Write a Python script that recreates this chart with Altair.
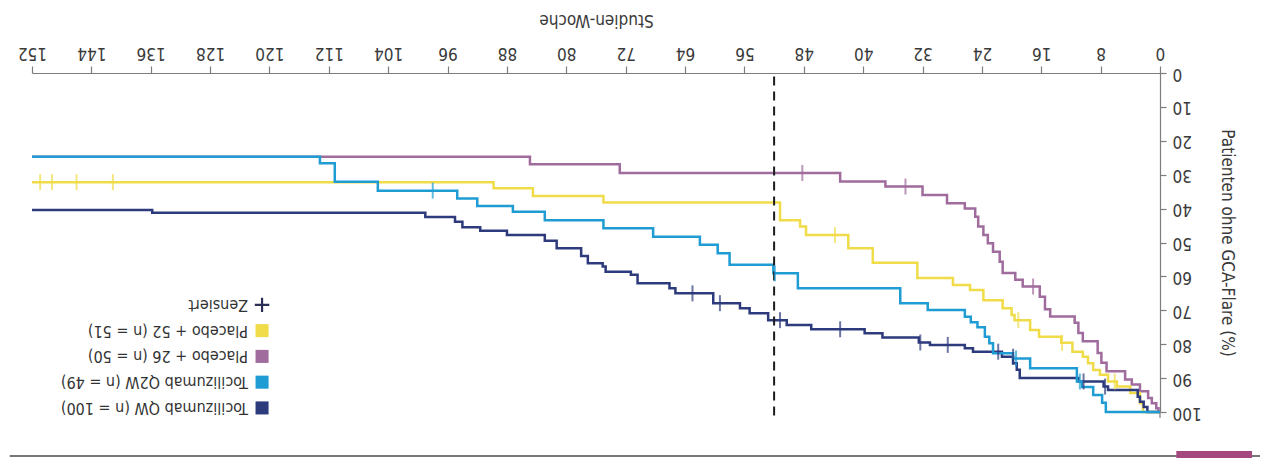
import altair as alt
import pandas as pd

FONT = "Liberation Sans Narrow, DejaVu Sans Condensed, Arial Narrow, Liberation Sans, sans-serif"

# ---- series identity -------------------------------------------------------
KEYS = ["P26", "P52", "QW", "Q2W"]          # drawing order (Q2W on top)
LABELS = {
    "QW": "Tocilizumab QW (n = 100)",
    "Q2W": "Tocilizumab Q2W (n = 49)",
    "P26": "Placebo + 26 (n = 50)",
    "P52": "Placebo + 52 (n = 51)",
}
COLOR_KEYS = ["QW", "Q2W", "P26", "P52"]
COLOR_VALUES = ["#2d3a7c", "#1f9cd4", "#a06b9d", "#efdc48"]

# ---- Kaplan-Meier step data (week at which level starts, % without flare) ----
qw_weeks = [0, 1.7, 2.2, 2.7, 3.0, 7.0, 7.6, 11.0, 18.9, 19.3, 19.8, 21.3, 25.2, 26.3,
            31.0, 32.5, 37.4, 39.8, 47.0, 50.3, 52.8, 55.3, 56.6, 60.2, 65.3, 66.1,
            70.4, 71.3, 74.7, 75.1, 77.1, 78.0, 81.3, 82.9, 88.0, 91.6, 94.0, 95.0,
            99.0, 135.8, 152]
qw_pct = [100, 98.5, 97, 95.5, 93.5, 92.5, 91, 90, 87.5, 85.6, 83.7, 82.2, 81.2, 80.2,
          79.5, 78, 76.8, 75.6, 74.3, 72.9, 70.9, 69.4, 67.9, 65, 63.5, 62,
          59.5, 58.6, 57.1, 56.1, 54, 51.7, 49.5, 47.8, 46.5, 45.5, 43.9, 42.5,
          41.2, 40.4, 40.4]

q2w_weeks = [0, 7.3, 7.8, 9.0, 10.5, 11.2, 17.5, 19.8, 22.5, 23.0, 23.6, 24.6, 25.5,
             26.3, 31.3, 35.0, 48.8, 52.1, 58.0, 59.6, 62.0, 68.3, 75.0, 82.9, 87.2,
             92.0, 94.7, 105.4, 111.2, 113.2, 152]
q2w_pct = [100, 97.3, 95, 92.6, 91, 87.1, 84.2, 82.7, 79.7, 77.8, 75, 73.5, 71.9,
           69.9, 67.9, 63.5, 59.1, 56.6, 53.2, 50.7, 48.3, 45.8, 43.4, 40.9, 39.2,
           37, 34.7, 32.1, 26.6, 24.7, 24.7]

p26_weeks = [0, 0.2, 0.5, 1.1, 1.6, 2.7, 3.8, 4.7, 7.2, 7.9, 8.4, 10.4, 11.0, 11.5,
             14.8, 15.5, 16.2, 18.5, 19.5, 21.2, 21.6, 22.5, 23.2, 23.8, 24.5, 24.9,
             26.3, 28.7, 32.0, 37.0, 43.1, 72.8, 84.9, 152]
p26_pct = [100, 98.9, 97.4, 95.9, 93.9, 91.9, 90.4, 88, 85.5, 82.6, 79.1, 76.7, 73.7, 71.8,
           69.7, 66, 63, 61, 59, 55.7, 52.7, 50.2, 47.8, 45.3, 42.4, 40,
           38.4, 36, 33.5, 32, 29.5, 26.9, 24.7, 24.7]

p52_weeks = [0, 2.3, 2.7, 4.0, 5.8, 7.0, 8.1, 9.0, 9.7, 10.4, 11.8, 13.3, 16.3, 17.5,
             19.6, 20.0, 21.2, 23.8, 25.6, 27.9, 32.7, 38.7, 42.0, 47.7, 48.5, 51.2,
             75.0, 84.5, 89.8, 152]
p52_pct = [100, 97.4, 94.4, 92.5, 91, 89, 87.6, 85.6, 83.7, 82.2, 79.6, 77.8, 75.8, 72.9,
           71.4, 69.4, 67, 64, 62.5, 60.5, 56, 51.7, 47.8, 45.3, 43.4, 38.2,
           36.3, 34, 32.2, 32.2]

# ---- censored observations --------------------------------------------------
qw_cens_w = [7.4, 10.3, 19.8, 21.8, 28.6, 32.3, 43.1, 51.2, 59.3, 63.0]
qw_cens_p = [92.5, 91, 83.7, 82.2, 80.2, 79.5, 75.6, 72.9, 67.9, 65]
q2w_cens_w = [10.8, 19.4, 51.9, 98.0]
q2w_cens_p = [91, 84.2, 59.1, 34.7]
p26_cens_w = [17.1, 34.3, 48.2]
p26_cens_p = [63, 33.5, 29.5]
p52_cens_w = [6.1, 13.2, 19.1, 43.8, 141.1, 146.0, 149.3, 150.9]
p52_cens_p = [91, 79.6, 72.9, 47.8, 32.2, 32.2, 32.2, 32.2]

x_ticks = list(range(0, 153, 8))
y_ticks = list(range(0, 101, 10))
landmark_week = [52]

legend_order = ["QW", "Q2W", "P26", "P52"]
censor_label = "Zensiert"

# ---- build tables -----------------------------------------------------------
curves = {"QW": (qw_weeks, qw_pct), "Q2W": (q2w_weeks, q2w_pct),
          "P26": (p26_weeks, p26_pct), "P52": (p52_weeks, p52_pct)}
cens = {"QW": (qw_cens_w, qw_cens_p), "Q2W": (q2w_cens_w, q2w_cens_p),
        "P26": (p26_cens_w, p26_cens_p), "P52": (p52_cens_w, p52_cens_p)}

line_rows, cens_rows = [], []
for k in KEYS:
    w, p = curves[k]
    for a, b in zip(w, p):
        line_rows.append({"key": k, "order": KEYS.index(k), "week": a, "pct": b})
    cw, cp = cens[k]
    for a, b in zip(cw, cp):
        cens_rows.append({"key": k, "order": KEYS.index(k), "week": a, "pct": b})
lines_df = pd.DataFrame(line_rows)
cens_df = pd.DataFrame(cens_rows)

W, H = 1128, 339
PX_W = 152 / W          # weeks per pixel
PX_P = 100 / H          # percent per pixel

leg_rows = []
for i, k in enumerate(legend_order):
    leg_rows.append({"key": k, "label": LABELS[k],
                     "week": 121.0, "tx": 121.0 + 14 * PX_W,
                     "pct": 98.8 - i * 7.6})
leg_df = pd.DataFrame(leg_rows)
cens_leg_df = pd.DataFrame([{"label": censor_label, "week": 121.0,
                             "tx": 121.0 + 14 * PX_W, "pct": 98.8 - 4 * 7.6}])
dash_df = pd.DataFrame({"week": landmark_week, "pct": [1.0], "pct2": [102.0]})

# page furniture below the plot (rule across the page and a coloured tab)
page_rule_df = pd.DataFrame({"week": [155.0], "week2": [-13.5], "pct": [100 + 44 * PX_P]})
page_tab_df = pd.DataFrame({"week": [-2.2], "week2": [-12.4],
                            "pct": [100 + 39 * PX_P], "pct2": [100 + 47 * PX_P]})
axis_ext_df = pd.DataFrame({"week": [0.0], "pct": [100.0], "pct2": [100 + 6 * PX_P]})

color_scale = alt.Scale(domain=COLOR_KEYS, range=COLOR_VALUES)
x_scale = alt.Scale(domain=[0, 152], reverse=True, nice=False, zero=False)
y_scale = alt.Scale(domain=[0, 100], reverse=True, nice=False, zero=False)

x_axis = alt.Axis(orient="top", values=x_ticks, grid=False,
                  labelAngle=180, labelAlign="center", labelBaseline="top",
                  labelPadding=6, labelFlush=False, labelOverlap=False,
                  tickSize=7, labelFontSize=17, labelFont=FONT,
                  title="Studien-Woche", titleAngle=180, titleAlign="center",
                  titleBaseline="middle", titleX=W / 2, titleY=-54,
                  titleFontSize=17, titleFont=FONT, titleFontWeight="normal")
y_axis = alt.Axis(orient="right", values=y_ticks, grid=False,
                  labelAngle=180, labelAlign="right", labelBaseline="middle",
                  labelPadding=6, labelFlush=False, labelOverlap=False,
                  tickSize=6, labelFontSize=17, labelFont=FONT,
                  title="Patienten ohne GCA-Flare (%)", titleAngle=90,
                  titleAlign="center", titleBaseline="middle",
                  titleX=66, titleY=H / 2, titleFontSize=17, titleFont=FONT,
                  titleFontWeight="normal")


def xq(field="week"):
    return alt.X(f"{field}:Q", scale=x_scale, axis=x_axis)


def yq(field="pct"):
    return alt.Y(f"{field}:Q", scale=y_scale, axis=y_axis)


lines = alt.Chart(lines_df).mark_line(interpolate="step-after", strokeWidth=2.5).encode(
    x=xq(), y=yq(),
    color=alt.Color("key:N", scale=color_scale, legend=None),
    detail="key:N",
    order=alt.Order("order:Q"),
)

ticks = alt.Chart(cens_df).mark_tick(orient="vertical", size=16, thickness=2).encode(
    x=xq(), y=yq(),
    color=alt.Color("key:N", scale=color_scale, legend=None),
)

dash = alt.Chart(dash_df).mark_rule(strokeDash=[9, 6], strokeWidth=2, color="#1c1c1c").encode(
    x=xq(), y=yq(), y2="pct2:Q",
)

axis_ext = alt.Chart(axis_ext_df).mark_rule(strokeWidth=1.2, color="#7d7d7d").encode(
    x=xq(), y=yq(), y2="pct2:Q",
)

page_rule = alt.Chart(page_rule_df).mark_rule(strokeWidth=1.5, color="#4a4a4a").encode(
    x=xq(), x2="week2:Q", y=yq(),
)
page_tab = alt.Chart(page_tab_df).mark_rect(color="#a4487f").encode(
    x=xq(), x2="week2:Q", y=yq(), y2="pct2:Q",
)

swatches = alt.Chart(leg_df).mark_square(size=170, opacity=1).encode(
    x=xq(), y=yq(),
    color=alt.Color("key:N", scale=color_scale, legend=None),
)
leg_text = alt.Chart(leg_df).mark_text(angle=180, align="left", baseline="middle",
                                       fontSize=16, font=FONT, color="#333333").encode(
    x=xq("tx"), y=yq(), text="label:N",
)
plus = alt.Chart(cens_leg_df).mark_point(shape="M-1,0L1,0M0,-1L0,1", size=210,
                                         filled=False, strokeWidth=2.2, color="#2b2f55",
                                         opacity=1).encode(
    x=xq(), y=yq(),
)
plus_text = alt.Chart(cens_leg_df).mark_text(angle=180, align="left", baseline="middle",
                                             fontSize=16, font=FONT, color="#333333").encode(
    x=xq("tx"), y=yq(), text="label:N",
)

chart = alt.layer(page_rule, page_tab, axis_ext, lines, dash, ticks, swatches, leg_text,
                  plus, plus_text).properties(
    width=W, height=H,
    autosize=alt.AutoSizeParams(type="none"),
    padding={"left": 24, "top": 65, "right": 100, "bottom": 46},
    background="#ffffff",
).configure_view(stroke=None).configure_axis(
    domainColor="#7d7d7d", tickColor="#7d7d7d", labelColor="#3a3a3a",
    titleColor="#3a3a3a", domainWidth=1.2, tickWidth=1.2,
)

chart.save("out.html", embed_options={"renderer": "svg", "actions": False})
